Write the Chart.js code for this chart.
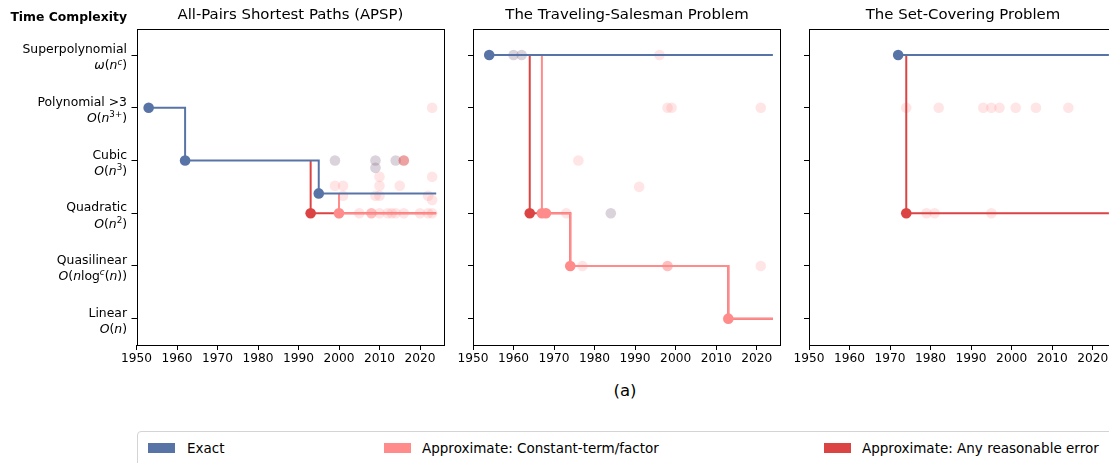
<!DOCTYPE html>
<html><head><meta charset="utf-8">
<script src="https://cdn.jsdelivr.net/npm/chart.js@4.4.1/dist/chart.umd.min.js"></script>
<style>
html,body{margin:0;padding:0;background:#fff;}
#fig{position:relative;width:1109px;height:463px;overflow:hidden;font-family:"DejaVu Sans",sans-serif;color:#000;}
canvas{position:absolute;top:0;}
#ytitle{position:absolute;right:982px;top:9px;font-weight:bold;font-size:12.4px;white-space:nowrap;}
#cap{position:absolute;left:0;width:1250px;top:381px;text-align:center;font-size:16.5px;}
#legend{position:absolute;left:137px;top:431px;width:1000px;height:45px;border:1px solid #d4d4d4;border-radius:4px;box-sizing:border-box;}
.lp{position:absolute;top:443px;width:27px;height:10px;}
.lt{position:absolute;top:440px;font-size:13.5px;white-space:nowrap;}
</style></head><body>
<div id="fig">
<canvas id="c1" width="460" height="370" style="left:0"></canvas>
<canvas id="c2" width="350" height="370" style="left:440px"></canvas>
<canvas id="c3" width="350" height="370" style="left:775px"></canvas>
<div id="ytitle">Time Complexity</div>
<div id="cap">(a)</div>
<div id="legend"></div>
<div class="lp" style="left:148px;background:#5874a6"></div><div class="lt" style="left:187px">Exact</div>
<div class="lp" style="left:384px;background:#ff8b8b"></div><div class="lt" style="left:422px">Approximate: Constant-term/factor</div>
<div class="lp" style="left:824px;background:#dc4444"></div><div class="lt" style="left:862px">Approximate: Any reasonable error</div>
</div>
<script>
// ---------- labels ----------
const PANEL_TITLES = ['All-Pairs Shortest Paths (APSP)', 'The Traveling-Salesman Problem', 'The Set-Covering Problem'];
const X_TICKS = [1950, 1960, 1970, 1980, 1990, 2000, 2010, 2020];
const LEVEL_VALUES = [0, 1, 2, 3, 4, 5];
const LEVEL_NAMES = ['Linear', 'Quasilinear', 'Quadratic', 'Cubic', 'Polynomial >3', 'Superpolynomial'];
const LEVEL_MATH = [
  [['O','i'],['(','r'],['n','i'],[')','r']],
  [['O','i'],['(','r'],['n','i'],['log','r'],['c','si'],['(','r'],['n','i'],[')','r'],[')','r']],
  [['O','i'],['(','r'],['n','i'],['2','s'],[')','r']],
  [['O','i'],['(','r'],['n','i'],['3','s'],[')','r']],
  [['O','i'],['(','r'],['n','i'],['3+','s'],[')','r']],
  [['ω','i'],['(','r'],['n','i'],['c','si'],[')','r']]
];

// ---------- APSP ----------
const apspExactStepX = [1953, 1962, 1995, 2024];
const apspExactStepY = [4, 3, 2.376, 2.376];
const apspConstStepX = [2000, 2000, 2024];
const apspConstStepY = [2.376, 2, 2];
const apspAnyStepX = [1993, 1993, 2024];
const apspAnyStepY = [3, 2, 2];
const apspExactPtsX = [1953, 1962, 1995];
const apspExactPtsY = [4, 3, 2.376];
const apspConstPtsX = [2000];
const apspConstPtsY = [2];
const apspAnyPtsX = [1993];
const apspAnyPtsY = [2];
const apspMidConstX = [2008];
const apspMidConstY = [2];
const apspMidAnyX = [2016];
const apspMidAnyY = [3];
const apspFadedGrayX = [1999, 2009, 2014, 2009];
const apspFadedGrayY = [3, 3, 3, 2.86];
const apspFadedRedX = [2023, 2010, 2023, 1999, 2001, 2010, 2015, 2001, 2009, 2010, 2022, 2023,
  2000, 2005, 2010, 2012, 2013, 2014, 2016, 2020, 2022, 2023];
const apspFadedRedY = [4, 2.69, 2.69, 2.52, 2.52, 2.52, 2.52, 2.33, 2.33, 2.33, 2.33, 2.25,
  2, 2, 2, 2, 2, 2, 2, 2, 2, 2];

// ---------- TSP ----------
const tspExactStepX = [1954, 2024];
const tspExactStepY = [5, 5];
const tspConstStepX = [1967, 1967, 1974, 2013, 2024];
const tspConstStepY = [5, 2, 1, 0, 0];
const tspAnyStepX = [1964, 1964, 1974, 2013, 2024];
const tspAnyStepY = [5, 2, 1, 0, 0];
const tspExactPtsX = [1954];
const tspExactPtsY = [5];
const tspConstPtsX = [1967, 1968, 1974, 2013];
const tspConstPtsY = [2, 2, 1, 0];
const tspAnyPtsX = [1964];
const tspAnyPtsY = [2];
const tspMidConstX = [1998];
const tspMidConstY = [1];
const tspMidAnyX = [];
const tspMidAnyY = [];
const tspFadedGrayX = [1960, 1962, 1984];
const tspFadedGrayY = [5, 5, 2];
const tspFadedRedX = [1996, 1998, 1999, 2021, 1976, 1991, 1973, 1977, 2021];
const tspFadedRedY = [5, 4, 4, 4, 3, 2.5, 2, 1, 1];

// ---------- Set cover ----------
const scExactStepX = [1972, 2024];
const scExactStepY = [5, 5];
const scConstStepX = [];
const scConstStepY = [];
const scAnyStepX = [1974, 1974, 2024];
const scAnyStepY = [5, 2, 2];
const scExactPtsX = [1972];
const scExactPtsY = [5];
const scConstPtsX = [];
const scConstPtsY = [];
const scAnyPtsX = [1974];
const scAnyPtsY = [2];
const scMidConstX = [];
const scMidConstY = [];
const scMidAnyX = [];
const scMidAnyY = [];
const scFadedGrayX = [];
const scFadedGrayY = [];
const scFadedRedX = [1974, 1982, 1993, 1995, 1997, 2001, 2006, 2014, 1979, 1981, 1995];
const scFadedRedY = [4, 4, 4, 4, 4, 4, 4, 4, 2, 2, 2];

// ---------- styling ----------
const C_EXACT = '#5874a6', C_CONST = '#ff8b8b', C_ANY = '#dc4444';
const FONT = '"DejaVu Sans", sans-serif';

function pts(xs, ys) { return xs.map((x, i) => ({x: x, y: ys[i]})); }

function lineDs(xs, ys, color, order) {
  return {data: pts(xs, ys), borderColor: color, borderWidth: 2, pointRadius: 0, stepped: 'before',
    fill: false, showLine: true, order: order, tension: 0};
}
function markDs(xs, ys, color, order) {
  return {data: pts(xs, ys), backgroundColor: color, borderColor: color, borderWidth: 0, pointRadius: 5.3,
    pointHoverRadius: 5.3, showLine: false, order: order};
}

const framePlugin = {
  id: 'frame',
  afterDraw(chart, args, opts) {
    const a = chart.chartArea, ctx = chart.ctx;
    ctx.save();
    ctx.strokeStyle = '#000'; ctx.lineWidth = 1;
    ctx.strokeRect(Math.round(a.left) + 0.5, Math.round(a.top) + 0.5, Math.round(a.right - a.left) - 1, Math.round(a.bottom - a.top));
    ctx.fillStyle = '#000';
    ctx.font = '14.9px ' + FONT;
    ctx.textAlign = 'center'; ctx.textBaseline = 'middle';
    ctx.fillText(opts.title, (a.left + a.right) / 2, 15);
    if (opts.yLabels) {
      const ys = chart.scales.y;
      const xr = a.left - 9.5;
      LEVEL_VALUES.forEach((v, i) => {
        const py = ys.getPixelForValue(v);
        ctx.textAlign = 'right'; ctx.textBaseline = 'alphabetic';
        ctx.font = '12.4px ' + FONT;
        ctx.fillText(LEVEL_NAMES[i], xr, py - 1.8);
        const segs = LEVEL_MATH[i];
        const fontOf = s => (s.includes('i') ? 'italic ' : '') + (s.includes('s') ? 8.7 : 12.4) + 'px ' + FONT;
        let total = 0;
        segs.forEach(sg => { ctx.font = fontOf(sg[1]); total += ctx.measureText(sg[0]).width; });
        let x = xr - total;
        ctx.textAlign = 'left';
        segs.forEach(sg => {
          ctx.font = fontOf(sg[1]);
          const base = py + 14.3 - (sg[1].includes('s') ? 4.8 : 0);
          ctx.fillText(sg[0], x, base);
          x += ctx.measureText(sg[0]).width;
        });
      });
    }
    ctx.restore();
  }
};

function makePanel(id, title, d, yWidth, padRight, yLabels) {
  const datasets = [
    markDs(d.anyPtsX, d.anyPtsY, C_ANY, 0),
    markDs(d.constPtsX, d.constPtsY, C_CONST, 1),
    markDs(d.exactPtsX, d.exactPtsY, C_EXACT, 2),
    lineDs(d.exactStepX, d.exactStepY, C_EXACT, 3),
    lineDs(d.constStepX, d.constStepY, C_CONST, 4),
    lineDs(d.anyStepX, d.anyStepY, C_ANY, 5),
    markDs(d.midConstX, d.midConstY, 'rgba(255,138,138,0.55)', 6),
    markDs(d.midAnyX, d.midAnyY, 'rgba(220,68,68,0.5)', 6),
    markDs(d.fadedGrayX, d.fadedGrayY, 'rgba(110,80,110,0.25)', 7),
    markDs(d.fadedRedX, d.fadedRedY, 'rgba(255,138,138,0.22)', 8)
  ];
  return new Chart(document.getElementById(id), {
    type: 'line',
    data: {datasets: datasets},
    options: {
      responsive: false, animation: false, events: [],
      layout: {padding: {top: 28.7, right: padRight, left: 0, bottom: 0}},
      plugins: {legend: {display: false}, tooltip: {enabled: false}, title: {display: false},
        frame: {title: title, yLabels: yLabels}},
      scales: {
        x: {
          type: 'linear', min: 1950, max: 2026,
          afterBuildTicks: s => { s.ticks = X_TICKS.map(v => ({value: v})); },
          afterFit: s => { s.height = 25; },
          ticks: {callback: v => String(v), font: {family: FONT, size: 12.2}, color: '#000', padding: 2, maxRotation: 0, autoSkip: false},
          grid: {display: true, drawOnChartArea: false, drawTicks: true, tickLength: 5, tickColor: '#000', tickWidth: 1},
          border: {display: false}
        },
        y: {
          type: 'linear', min: -0.5, max: 5.5,
          afterBuildTicks: s => { s.ticks = LEVEL_VALUES.map(v => ({value: v})); },
          afterFit: s => { s.width = yWidth; },
          ticks: {display: false},
          grid: {display: true, drawOnChartArea: false, drawTicks: true, tickLength: 5, tickColor: '#000', tickWidth: 1},
          border: {display: false}
        }
      }
    },
    plugins: [framePlugin]
  });
}

makePanel('c1', PANEL_TITLES[0], {
  exactStepX: apspExactStepX, exactStepY: apspExactStepY, constStepX: apspConstStepX, constStepY: apspConstStepY,
  anyStepX: apspAnyStepX, anyStepY: apspAnyStepY, exactPtsX: apspExactPtsX, exactPtsY: apspExactPtsY,
  constPtsX: apspConstPtsX, constPtsY: apspConstPtsY, anyPtsX: apspAnyPtsX, anyPtsY: apspAnyPtsY,
  midConstX: apspMidConstX, midConstY: apspMidConstY, midAnyX: apspMidAnyX, midAnyY: apspMidAnyY,
  fadedGrayX: apspFadedGrayX, fadedGrayY: apspFadedGrayY, fadedRedX: apspFadedRedX, fadedRedY: apspFadedRedY
}, 136.5, 15.7, true);

makePanel('c2', PANEL_TITLES[1], {
  exactStepX: tspExactStepX, exactStepY: tspExactStepY, constStepX: tspConstStepX, constStepY: tspConstStepY,
  anyStepX: tspAnyStepX, anyStepY: tspAnyStepY, exactPtsX: tspExactPtsX, exactPtsY: tspExactPtsY,
  constPtsX: tspConstPtsX, constPtsY: tspConstPtsY, anyPtsX: tspAnyPtsX, anyPtsY: tspAnyPtsY,
  midConstX: tspMidConstX, midConstY: tspMidConstY, midAnyX: tspMidAnyX, midAnyY: tspMidAnyY,
  fadedGrayX: tspFadedGrayX, fadedGrayY: tspFadedGrayY, fadedRedX: tspFadedRedX, fadedRedY: tspFadedRedY
}, 33, 9, false);

makePanel('c3', PANEL_TITLES[2], {
  exactStepX: scExactStepX, exactStepY: scExactStepY, constStepX: scConstStepX, constStepY: scConstStepY,
  anyStepX: scAnyStepX, anyStepY: scAnyStepY, exactPtsX: scExactPtsX, exactPtsY: scExactPtsY,
  constPtsX: scConstPtsX, constPtsY: scConstPtsY, anyPtsX: scAnyPtsX, anyPtsY: scAnyPtsY,
  midConstX: scMidConstX, midConstY: scMidConstY, midAnyX: scMidAnyX, midAnyY: scMidAnyY,
  fadedGrayX: scFadedGrayX, fadedGrayY: scFadedGrayY, fadedRedX: scFadedRedX, fadedRedY: scFadedRedY
}, 34, 8, false);
</script>
</body></html>
